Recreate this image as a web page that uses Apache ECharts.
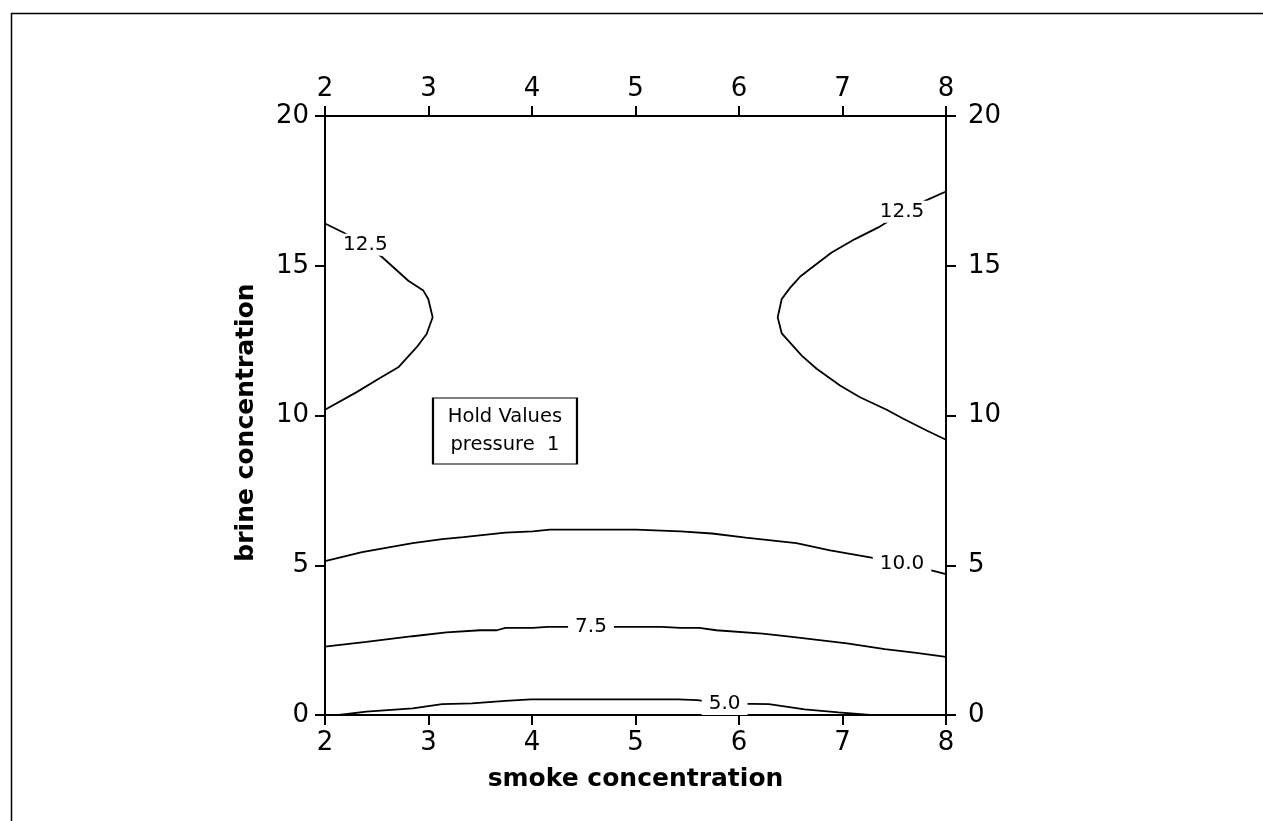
<!DOCTYPE html>
<html>
<head>
<meta charset="utf-8">
<script src="https://cdn.jsdelivr.net/npm/echarts@6/dist/echarts.min.js"></script>
<style>
html,body{margin:0;padding:0;background:#fff;}
#chart{width:1263px;height:821px;}
</style>
</head>
<body>
<div id="chart"></div>
<script>
// ---- data (smoke concentration x, brine concentration y) ----
var xTicks = [2, 8, 1];      // min, max, interval
var yTicks = [0, 20, 5];

var contour125Left = [
  [2.000, 16.41], [2.177, 16.11], [2.380, 15.70], [2.548, 15.30], [2.805, 14.50],
  [2.950, 14.17], [2.998, 13.89], [3.040, 13.28], [2.982, 12.72], [2.886, 12.28],
  [2.708, 11.61], [2.515, 11.22], [2.306, 10.78], [2.000, 10.19]
];
var contour125Right = [
  [8.000, 17.48], [7.813, 17.19], [7.581, 16.78], [7.346, 16.28], [7.121, 15.89],
  [6.895, 15.44], [6.686, 14.89], [6.589, 14.63], [6.493, 14.26], [6.413, 13.89],
  [6.374, 13.28], [6.413, 12.74], [6.606, 12.00], [6.750, 11.56], [6.976, 11.00],
  [7.169, 10.61], [7.427, 10.19], [7.588, 9.89], [7.813, 9.50], [8.000, 9.19]
];
var contour100 = [
  [2.000, 5.14], [2.358, 5.44], [2.847, 5.74], [3.132, 5.87], [3.336, 5.94],
  [3.743, 6.09], [4.008, 6.13], [4.171, 6.19], [5.006, 6.19], [5.434, 6.13],
  [5.739, 6.06], [6.065, 5.92], [6.554, 5.74], [6.880, 5.50], [7.267, 5.26],
  [7.575, 5.04], [7.878, 4.81], [8.000, 4.70]
];
var contour75 = [
  [2.000, 2.28], [2.399, 2.44], [2.847, 2.63], [3.173, 2.76], [3.499, 2.83],
  [3.662, 2.83], [3.743, 2.91], [4.008, 2.91], [4.151, 2.94], [4.570, 2.94],
  [4.823, 2.94], [5.251, 2.94], [5.434, 2.91], [5.617, 2.91], [5.780, 2.83],
  [6.228, 2.72], [6.513, 2.61], [7.043, 2.39], [7.409, 2.20], [7.695, 2.08],
  [8.000, 1.94]
];
var contour50 = [
  [2.134, 0.00], [2.399, 0.11], [2.847, 0.22], [3.132, 0.36], [3.418, 0.39],
  [3.743, 0.47], [3.988, 0.52], [5.413, 0.52], [5.597, 0.50], [5.861, 0.37],
  [6.126, 0.37], [6.289, 0.36], [6.635, 0.19], [6.961, 0.09], [7.267, 0.00]
];
// contour label positions [x, y, text]
var contourLabels = [
  [2.390, 15.70, '12.5'],
  [7.575, 16.80, '12.5'],
  [7.575, 5.04, '10.0'],
  [4.570, 2.94, '7.5'],
  [5.861, 0.37, '5.0']
];
var holdBox = [[3.739, 9.48]];
var holdText = 'Hold Values\npressure  1';
var xName = 'smoke concentration';
var yName = 'brine concentration';

// ---- chart ----
var FONT = 'DejaVu Sans';
var TICK_FS = 26;
var chart = echarts.init(document.getElementById('chart'), null, {renderer: 'canvas'});

function axisCommon(extra) {
  var a = {
    type: 'value',
    axisLine: {show: true, onZero: false, lineStyle: {color: '#000', width: 2}},
    axisTick: {show: true, inside: false, length: 10, lineStyle: {color: '#000', width: 2}},
    axisLabel: {color: '#000', fontSize: TICK_FS, fontFamily: FONT, margin: 14},
    splitLine: {show: false}
  };
  for (var k in extra) a[k] = extra[k];
  return a;
}

function lineSeries(d) {
  return {
    type: 'line', data: d, symbol: 'none', smooth: false, z: 3,
    lineStyle: {color: '#000', width: 1.8}, xAxisIndex: 0, yAxisIndex: 0,
    silent: true, animation: false
  };
}

var option = {
  backgroundColor: '#fff',
  animation: false,
  grid: {left: 325, top: 116, width: 621, height: 599, containLabel: false},
  graphic: [{
    type: 'rect', left: 9, top: 11, z: -10,
    shape: {x: 0, y: 0, width: 1400, height: 1000},
    style: {fill: 'none', stroke: '#000', lineWidth: 1.5}
  }],
  xAxis: [
    axisCommon({position: 'bottom', min: xTicks[0], max: xTicks[1], interval: xTicks[2],
      name: xName, nameLocation: 'middle', nameGap: 52,
      nameTextStyle: {color: '#000', fontSize: 25, fontWeight: 'bold', fontFamily: FONT},
      axisLabel: {color: '#000', fontSize: TICK_FS, fontFamily: FONT, margin: 15}}),
    axisCommon({position: 'top', min: xTicks[0], max: xTicks[1], interval: xTicks[2],
      axisLabel: {color: '#000', fontSize: TICK_FS, fontFamily: FONT, margin: 14}})
  ],
  yAxis: [
    axisCommon({position: 'left', min: yTicks[0], max: yTicks[1], interval: yTicks[2],
      name: yName, nameLocation: 'middle', nameGap: 66, nameRotate: 90,
      nameTextStyle: {color: '#000', fontSize: 25, fontWeight: 'bold', fontFamily: FONT,
        padding: [0, 14, 0, 0]},
      axisLabel: {color: '#000', fontSize: TICK_FS, fontFamily: FONT, margin: 16}}),
    axisCommon({position: 'right', min: yTicks[0], max: yTicks[1], interval: yTicks[2],
      axisLabel: {color: '#000', fontSize: TICK_FS, fontFamily: FONT, margin: 22}})
  ],
  series: [
    lineSeries(contour125Left),
    lineSeries(contour125Right),
    lineSeries(contour100),
    lineSeries(contour75),
    lineSeries(contour50),
    {
      type: 'scatter', z: 5, silent: true, animation: false,
      data: contourLabels.map(function (d) { return {value: [d[0], d[1]], name: d[2]}; }),
      symbolSize: 1,
      itemStyle: {color: 'rgba(0,0,0,0)', opacity: 1},
      label: {
        show: true, position: 'inside', formatter: function (p) { return p.name; },
        color: '#000', fontSize: 20, fontFamily: FONT,
        backgroundColor: '#fff', padding: [1, 7]
      }
    },
    {
      type: 'scatter', z: 6, silent: true, animation: false,
      data: holdBox,
      symbol: 'rect', symbolSize: [144, 66],
      itemStyle: {color: '#fff', borderColor: '#000', borderWidth: 1.5, opacity: 1},
      label: {
        show: true, position: 'inside', formatter: holdText,
        color: '#000', fontSize: 19.5, fontFamily: FONT, lineHeight: 28
      }
    }
  ]
};
chart.setOption(option);
</script>
</body>
</html>
